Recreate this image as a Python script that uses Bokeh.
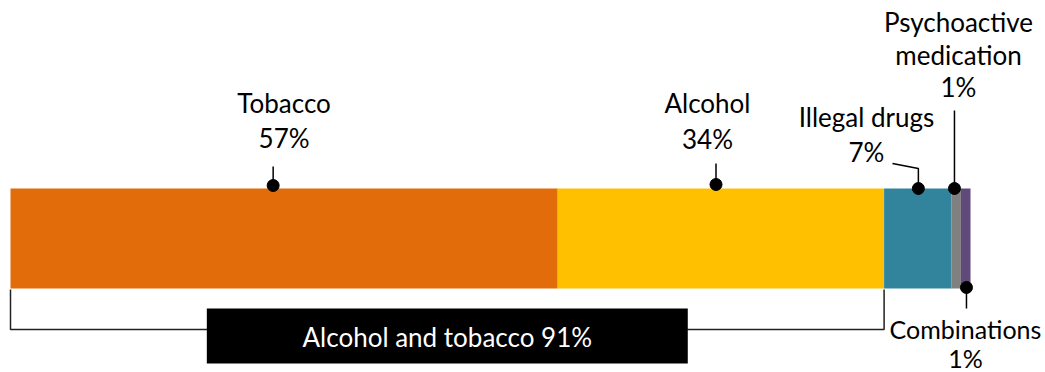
from bokeh.plotting import figure
from bokeh.models import Range1d
from bokeh.core.properties import value
from bokeh.embed import file_html
from bokeh.resources import INLINE

# Data
categories = ["Tobacco", "Alcohol", "Illegal drugs", "Psychoactive medication", "Combinations"]
shares = [57, 34, 7, 1, 1]
colors = ["#E36C0A", "#FFC000", "#31849B", "#808080", "#604A7B"]
label_lines = [["Tobacco", "57%"], ["Alcohol", "34%"], ["Illegal drugs", "7%"],
               ["Psychoactive", "medication", "1%"], ["Combinations", "1%"]]
combined_label = "Alcohol and tobacco 91%"
combined_share = shares[0] + shares[1]

W, H = 1045, 372
LEFT_PX, PX_PER_PCT = 10, 9.6
FONT = "Lato"
FS = "26px"
DY = -11  # baseline correction

p = figure(width=W, height=H, output_backend="svg", toolbar_location=None,
           x_range=Range1d(-LEFT_PX / PX_PER_PCT, (W - LEFT_PX) / PX_PER_PCT),
           y_range=Range1d(H, 0), min_border=0)
p.axis.visible = False
p.grid.visible = False
p.outline_line_color = None
p.background_fill_color = "white"

def px(xp):
    return (xp - LEFT_PX) / PX_PER_PCT

lefts, rights = [], []
acc = 0
for s in shares:
    lefts.append(acc)
    acc += s
    rights.append(acc)

bar_top, bar_bot = 188, 288
p.quad(left=lefts, right=rights, top=[bar_top] * 5, bottom=[bar_bot] * 5,
       fill_color=colors, line_color=None)

# anchor positions within segments
frac = [0.48, 0.485, 0.51, 0.33, 0.58]
anchors = [l + s * f for l, s, f in zip(lefts, shares, frac)]

def txt(x, y, t, color="black", align="center", fs=FS):
    p.text(x=[x], y=[y + DY], text=[t], text_font=value(FONT), text_font_size=fs,
           text_color=color, text_align=align, text_baseline="alphabetic")

# Tobacco
cx0 = (lefts[0] + rights[0]) / 2
txt(cx0, 113, label_lines[0][0]); txt(cx0, 148, label_lines[0][1])
p.line([anchors[0], anchors[0]], [166, 185], line_color="black", line_width=1.5)
# Alcohol
cx1 = px(707)
txt(cx1, 113, label_lines[1][0]); txt(cx1, 149, label_lines[1][1])
p.line([anchors[1], anchors[1]], [163, 185], line_color="black", line_width=1.5)
# Illegal drugs
cx2 = px(866)
txt(cx2, 127, label_lines[2][0]); txt(cx2, 162, label_lines[2][1])
p.line([px(892), anchors[2], anchors[2]], [163, 168, 187], line_color="black", line_width=1.5)
# Psychoactive
cx3 = px(958)
txt(cx3, 32, label_lines[3][0]); txt(cx3, 65, label_lines[3][1]); txt(cx3, 97, label_lines[3][2])
p.line([anchors[3], anchors[3]], [110, 187], line_color="black", line_width=1.5)
# Combinations
cx4 = px(965)
txt(cx4, 339, label_lines[4][0], fs="25px"); txt(cx4, 368, label_lines[4][1], fs="25px")
p.line([anchors[4], anchors[4]], [287, 308], line_color="black", line_width=1.5)

dot_y = [185, 184, 188, 188, 287]
p.scatter(x=anchors, y=dot_y, size=12, fill_color="black", line_color="black")

# Bracket
p.line([0, 0, combined_share, combined_share], [289, 329, 329, 289],
       line_color="#222222", line_width=1.5)
mid = combined_share / 2
half_w = 50.1 / 2
p.quad(left=[mid - half_w], right=[mid + half_w], top=[308], bottom=[363],
       fill_color="black", line_color=None)
txt(mid, 347, combined_label, color="white")

open("out.html", "w").write(file_html(p, INLINE))
